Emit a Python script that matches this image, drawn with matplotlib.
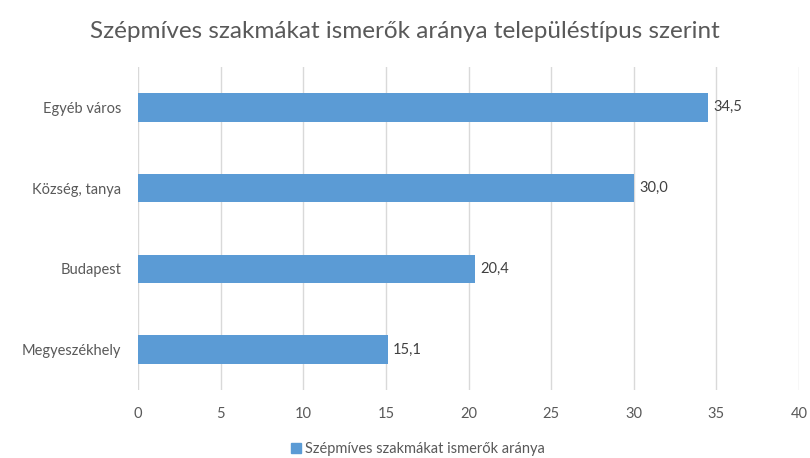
import matplotlib.pyplot as plt
from matplotlib.patches import Patch

categories = ['Megyeszékhely', 'Budapest', 'Község, tanya', 'Egyéb város']
values = [15.1, 20.4, 30.0, 34.5]
labels = ['15,1', '20,4', '30,0', '34,5']
xticks = [0, 5, 10, 15, 20, 25, 30, 35, 40]

plt.rcParams['font.family'] = ['Lato', 'DejaVu Sans']
bar_color = '#5B9BD5'
text_gray = '#595959'

fig = plt.figure(figsize=(8.1, 4.58), dpi=100)
ax = fig.add_axes([0.1704, 0.1485, 0.816, 0.7052])

ypos = range(len(categories))
ax.barh(ypos, values, height=0.35, color=bar_color, zorder=3)
for y, v, lab in zip(ypos, values, labels):
    ax.annotate(lab, (v, y), xytext=(4, 0), textcoords='offset points',
                va='center', ha='left', fontsize=10.5, color='#404040')

ax.set_xlim(0, 40)
ax.set_ylim(-0.5, len(categories) - 0.5)
ax.set_xticks(xticks)
ax.set_yticks(list(ypos))
ax.set_yticklabels(categories)
ax.tick_params(axis='both', length=0, labelsize=10.5, colors=text_gray)
ax.tick_params(axis='x', pad=12)
ax.tick_params(axis='y', pad=12)
ax.grid(axis='x', color='#D9D9D9', linewidth=1, zorder=0)
for s in ax.spines.values():
    s.set_visible(False)

fig.suptitle('Szépmíves szakmákat ismerők aránya településtípus szerint',
             y=0.955, fontsize=17.5, color=text_gray)

fig.legend(handles=[Patch(color=bar_color, label='Szépmíves szakmákat ismerők aránya')],
           loc='center', bbox_to_anchor=(0.516, 0.02), frameon=False,
           fontsize=10.5, labelcolor=text_gray, handlelength=0.7, handleheight=0.7,
           handletextpad=0.3, borderpad=0)

fig.savefig('out.png', dpi=100)
